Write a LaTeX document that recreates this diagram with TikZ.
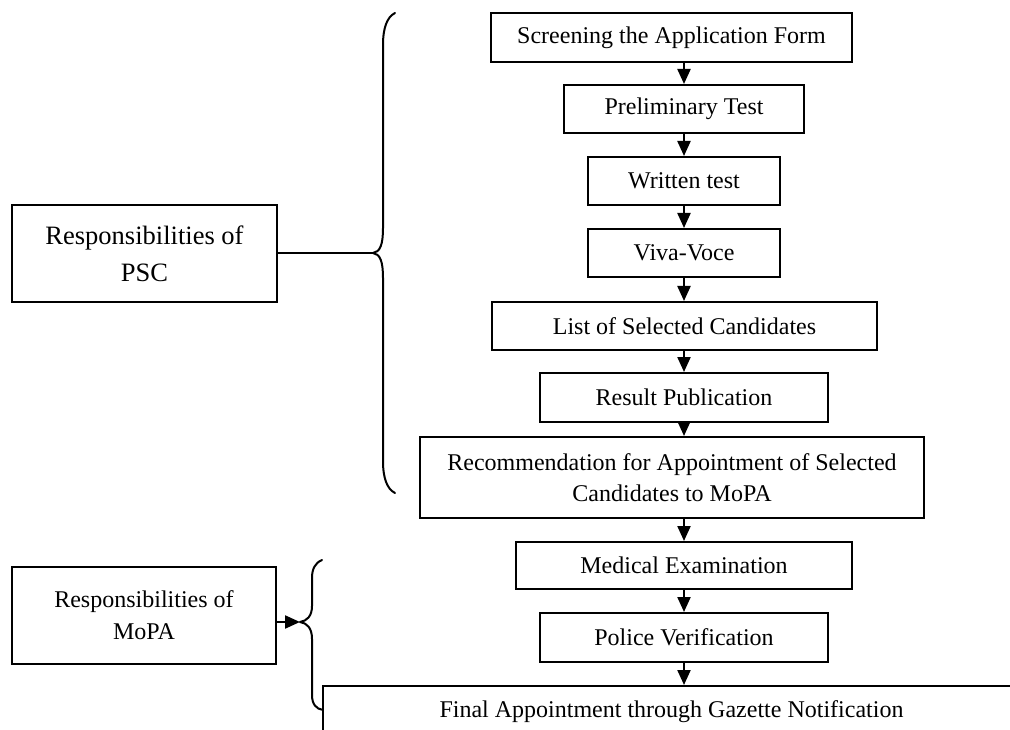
\documentclass[tikz,border=0pt]{standalone}
\usepackage{fontspec}
\setmainfont{Liberation Serif}
\usetikzlibrary{arrows.meta}
\begin{document}
\begin{tikzpicture}[x=1pt,y=-1pt,
  stepbox/.style={draw, line width=2pt, inner sep=0pt, align=center,
    font=\fontsize{24}{31.5}\selectfont},
  sidebox/.style={draw, line width=2pt, inner sep=0pt, align=center},
  flow/.style={line width=2.2pt, -{Triangle[length=15pt,width=13pt]}},
  link/.style={line width=2pt},
  brace/.style={line width=2pt, line cap=round, line join=round}]
\path[use as bounding box] (0,0) rectangle (1010,730);
\clip (0,0) rectangle (1010,730);

% flow of the recruitment steps
\node[stepbox, minimum width=361pt, minimum height=49pt] (scr) at (671.5,37.5) {Screening the Application Form};
\node[stepbox, minimum width=240pt, minimum height=48pt] (pre) at (684,109) {Preliminary Test};
\node[stepbox, minimum width=192pt, minimum height=48pt] (wri) at (684,181) {Written test};
\node[stepbox, minimum width=192pt, minimum height=48pt] (viva) at (684,253) {Viva-Voce};
\node[stepbox, minimum width=385pt, minimum height=48pt] (list) at (684.5,326) {List of Selected Candidates};
\node[stepbox, minimum width=288pt, minimum height=49pt] (res) at (684,397.5) {Result Publication};
\node[stepbox, minimum width=504pt, minimum height=81pt] (rec) at (672,477.5) {Recommendation for Appointment of Selected\\Candidates to MoPA};
\node[stepbox, minimum width=336pt, minimum height=47pt] (med) at (684,565.5) {Medical Examination};
\node[stepbox, minimum width=288pt, minimum height=49pt] (pol) at (684,637.5) {Police Verification};
\node[stepbox, minimum width=697pt, minimum height=52pt] (fin) at (671.5,712) {Final Appointment through Gazette Notification};

\draw[flow] (pre.north |- scr.south) -- (pre.north);
\draw[flow] (pre.south) -- (wri.north);
\draw[flow] (wri.south) -- (viva.north);
\draw[flow] (viva.south) -- (list.north -| viva.south);
\draw[flow] (list.south -| res.north) -- (res.north);
\draw[flow] (res.south) -- (rec.north -| res.south);
\draw[flow] (med.north |- rec.south) -- (med.north);
\draw[flow] (med.south) -- (pol.north);
\draw[flow] (pol.south) -- (fin.north -| pol.south);

% responsibility groups
\node[sidebox, minimum width=265pt, minimum height=97pt,
  font=\fontsize{26.5}{37}\selectfont] (psc) at (144.5,253.5) {Responsibilities of\\PSC};
\node[sidebox, minimum width=264pt, minimum height=97pt,
  font=\fontsize{24}{32}\selectfont] (mopa) at (144,615.5) {Responsibilities of\\MoPA};

\coordinate (pscTip) at (373,253);
\coordinate (mopaTip) at (300,622);

\draw[brace] (395,13) .. controls (387,17) and (383,28) .. (383,45) -- (383,228)
  .. controls (383,245) and (380,252) .. (pscTip)
  .. controls (380,254) and (383,261) .. (383,278) -- (383,461)
  .. controls (383,478) and (387,489) .. (395,493);
\draw[link] (psc.east |- pscTip) -- (pscTip);

\draw[brace] (322,560) .. controls (315,563) and (312,569) .. (312,578) -- (312,606)
  .. controls (312,616) and (307,621) .. (mopaTip)
  .. controls (307,623) and (312,628) .. (312,639) -- (312,695)
  .. controls (312,704) and (316,709) .. (323,710);
\draw[flow] (mopa.east |- mopaTip) -- (mopaTip);
\end{tikzpicture}
\end{document}
